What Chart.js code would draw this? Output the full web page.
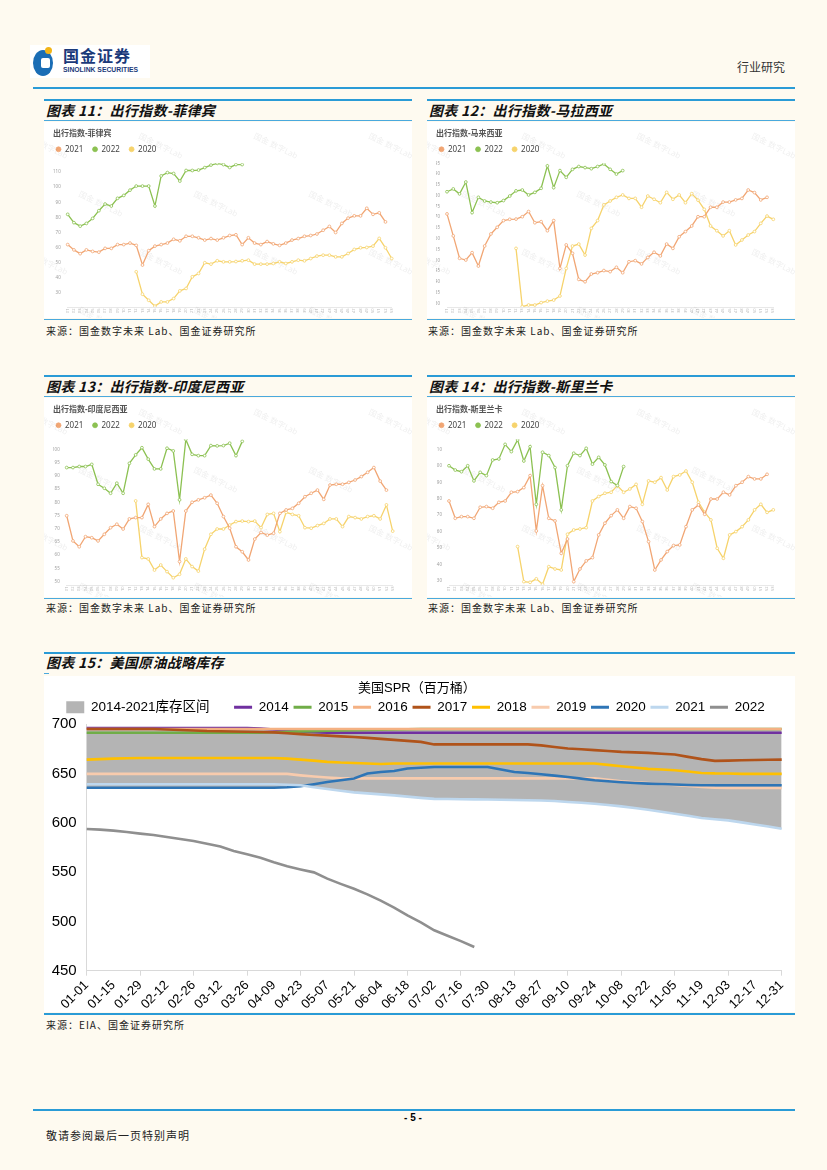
<!DOCTYPE html>
<html>
<head>
<meta charset="utf-8">
<script src="https://cdn.jsdelivr.net/npm/chart.js@4.4.0/dist/chart.umd.min.js"></script>
<style>
body { margin: 0; background: #fefaf0; font-family: "Noto Sans CJK SC", sans-serif; }
#page { position: relative; width: 827px; height: 1170px; overflow: hidden; }
.line { position: absolute; height: 0; border-top: 2px solid #2a9bd6; }
.thin { position: absolute; height: 0; border-top: 1px solid #4aa9dd; }
.ttl { position: absolute; font-size: 14px; font-weight: bold; font-style: italic; color: #111; line-height: 20px; letter-spacing: 0.3px; white-space: nowrap; }
.src { position: absolute; font-size: 10px; color: #222; letter-spacing: 1px; line-height: 12px; white-space: nowrap; }
.box { position: absolute; background: #fff; }
canvas { display: block; }
</style>
</head>
<body>
<div id="page">
  <!-- header -->
  <div class="box" style="left:30px;top:45px;width:120px;height:33px;"></div>
  <div style="position:absolute;left:33px;top:50px;width:20px;height:26px;border-radius:50%;background:#1a6db5;"></div>
  <div style="position:absolute;left:41px;top:58px;width:9px;height:10px;border-radius:2px;background:#fff;"></div>
  <div style="position:absolute;left:45px;top:47px;width:7px;height:7px;border-radius:50%;background:#f2b416;"></div>
  <div style="position:absolute;left:63px;top:45px;font-size:16px;font-weight:bold;color:#1b3a7a;letter-spacing:1px;line-height:20px;">国金证券</div>
  <div style="position:absolute;left:63px;top:66px;font-size:6.8px;font-weight:bold;color:#1b3a7a;font-family:'Liberation Sans',sans-serif;line-height:8px;">SINOLINK SECURITIES</div>
  <div style="position:absolute;left:737px;top:59px;font-size:12px;color:#333;line-height:16px;">行业研究</div>
  <div class="line" style="left:33px;top:87px;width:762px;"></div>

  <!-- chart 11 -->
  <div class="line" style="left:44px;top:99px;width:368px;"></div>
  <div class="ttl" style="left:46px;top:100px;">图表 11：出行指数-菲律宾</div>
  <div class="thin" style="left:44px;top:120px;width:368px;"></div>
  <div class="box" style="left:44px;top:122px;width:368px;height:196px;"><canvas id="c11" width="368" height="196"></canvas></div>
  <div class="thin" style="left:44px;top:319px;width:368px;"></div>
  <div class="src" style="left:46px;top:325px;">来源：国金数字未来 Lab、国金证券研究所</div>

  <!-- chart 12 -->
  <div class="line" style="left:427px;top:99px;width:368px;"></div>
  <div class="ttl" style="left:429px;top:100px;">图表 12：出行指数-马拉西亚</div>
  <div class="thin" style="left:427px;top:120px;width:368px;"></div>
  <div class="box" style="left:427px;top:122px;width:368px;height:196px;"><canvas id="c12" width="368" height="196"></canvas></div>
  <div class="thin" style="left:427px;top:319px;width:368px;"></div>
  <div class="src" style="left:428px;top:325px;">来源：国金数字未来 Lab、国金证券研究所</div>

  <!-- chart 13 -->
  <div class="line" style="left:44px;top:375px;width:368px;"></div>
  <div class="ttl" style="left:46px;top:376px;">图表 13：出行指数-印度尼西亚</div>
  <div class="thin" style="left:44px;top:396px;width:368px;"></div>
  <div class="box" style="left:44px;top:398px;width:368px;height:199px;"><canvas id="c13" width="368" height="199"></canvas></div>
  <div class="thin" style="left:44px;top:598px;width:368px;"></div>
  <div class="src" style="left:46px;top:602px;">来源：国金数字未来 Lab、国金证券研究所</div>

  <!-- chart 14 -->
  <div class="line" style="left:427px;top:375px;width:368px;"></div>
  <div class="ttl" style="left:429px;top:376px;">图表 14：出行指数-斯里兰卡</div>
  <div class="thin" style="left:427px;top:396px;width:368px;"></div>
  <div class="box" style="left:427px;top:398px;width:368px;height:199px;"><canvas id="c14" width="368" height="199"></canvas></div>
  <div class="thin" style="left:427px;top:598px;width:368px;"></div>
  <div class="src" style="left:428px;top:602px;">来源：国金数字未来 Lab、国金证券研究所</div>

  <!-- chart 15 -->
  <div class="line" style="left:44px;top:652px;width:751px;"></div>
  <div class="ttl" style="left:46px;top:652px;">图表 15：美国原油战略库存</div>
  <div class="thin" style="left:44px;top:673px;width:5px;"></div>
  <div class="box" style="left:44px;top:676px;width:751px;height:336px;"><canvas id="c15" width="751" height="336"></canvas></div>
  <div class="line" style="left:44px;top:1013px;width:751px;"></div>
  <div class="src" style="left:46px;top:1019px;">来源：EIA、国金证券研究所</div>

  <!-- footer -->
  <div class="line" style="left:33px;top:1109px;width:762px;"></div>
  <div style="position:absolute;left:393px;top:1111px;width:40px;text-align:center;font-size:10px;font-weight:bold;font-family:'Liberation Sans',sans-serif;line-height:14px;">- 5 -</div>
  <div style="position:absolute;left:46px;top:1128px;font-size:11px;color:#222;letter-spacing:1px;line-height:14px;">敬请参阅最后一页特别声明</div>
</div>

<script>
// ---------- small charts: weekly travel index ----------
var weekLabels = ['01','02','03','04','05','06','07','08','09','10','11','12','13','14','15','16','17','18','19','20',
  '21','22','23','24','25','26','27','28','29','30','31','32','33','34','35','36','37','38','39','40',
  '41','42','43','44','45','46','47','48','49','50','51','52','53'];

// Philippines
var ph2021 = [62,58.5,56,58.5,57.5,57,59.5,59.5,62,62, 63,61.5,48.5,58,61,62,63,65.5,64.5,67.5,
  67.5,66.5,65,66,65,66.5,68,68.5,62,66.5, 63,62,64,62.5,61.5,63,65,66,67.5,68,
  69,71.5,74,70,76,79.5,81,81,86,82, 83,77];
var ph2022 = [82,76.5,74.2,76,79.3,84.4,88.8,87.5,92.6,94.5, 98,100.7,100.7,100.7,87.5,107.4,109.6,109,104,111,
  111,111.3,112.9,114.6,115.7,114.9,113,114.9,114.9];
var ph2020 = [null,null,null,null,null,null,null,null,null,null,null,
  44,29.2,25.2,21.3,24.1,24.1,26.3,31.4,33,40.7, 42.9,50,49.1,51.3,50.6,50.6,50.8,51.3,51.7,49.1,
  49.1,49.1,49.5,50.6,49.5,50.6,51.7,51.3,52.8,54.4, 55,55,53.9,53.9,56.1,58.8,59.9,60.1,61,66.1, 59.9,52.8];

// Malaysia
var my2021 = [71.5,61.3,50.9,50.1,53.5,47.3,56.6,62.2,65.3,68.4, 69,69.1,70.2,72.6,67.4,67.9,63.7,68.4,46.2,57.1,
  53.2,41.1,40,43.6,44.2,45.2,44.7,46.7,44.2,49.3, 49.8,48.3,51.3,53.7,52,57.5,55.5,60.9,63.3,65.9,
  70.2,70.2,74.6,74.6,77,77,78,78.7,82.6,81.4, 78,79.2];
var my2022 = [81.8,83.1,80.8,86.3,72.1,79.2,77.5,77,76.7,77.7, 79.8,82.2,82.6,80.3,81.5,83.4,93.8,83.7,91.6,88.5,
  92.2,93.5,93,92.5,93.5,94.7,92.2,90,91.6];
var my2020 = [null,null,null,null,null,null,null,null,null,null,null,
  55.5,28.5,29.2,29.2,30.3,31,31.5,33.4,46.2,56.6, 57.5,52.4,64.8,68.4,75.7,77.5,79.2,80.3,78.7,78.7,
  74.6,79.8,78.3,76.7,81.5,78.3,80.3,76.7,80.9,77.9, 73.6,65.9,63.7,61.3,63.7,57.1,59.4,61.7,63.3,67.1, 70.5,69];

// Indonesia
var id2021 = [74.9,65.4,63.2,67,66.6,65.4,67.9,70.4,71.7,69.9, 73.7,74.2,74.2,79.2,70.8,73.7,75.8,76.7,57.6,76.7,
  80,80.9,81.7,82.7,79.6,74.6,70.2,63.2,61.3,58.2, 66.1,68.6,67.6,68.3,75.8,77.1,77.7,79.6,82.1,83.4,
  84.6,81.1,86.5,86.8,86.8,87.5,88.4,89.7,91.3,93.1, 88,84.6];
var id2022 = [93.1,93.1,93.5,93.5,94.3,86.8,85.3,83.4,87.2,83.4, 94.7,97.9,100.6,96.3,92.6,92.6,100.4,99.4,80.9,103.7,
  98.1,97.6,97.6,101.4,101.3,101.4,102.3,97.6,103];
var id2020 = [null,null,null,null,null,null,null,null,null,null,null,
  80.5,59.1,58.6,54.4,56.3,53.8,51.5,52.8,58.6,55.7, 54,62.3,67.9,69.9,69.9,71.4,72.7,72.9,72.7,72.9,
  70.4,75.4,75.8,68.9,76.2,75.4,74.9,70.4,70.2,71.2, 72,73.7,73.7,70.8,74.6,74.2,73.7,74.6,74.9,73.7, 79,69.1];

// Sri Lanka
var lk2021 = [78.6,68.1,69.1,69.1,68.1,74.8,75.2,74.2,77.8,78.6, 83.9,84.3,86.7,94,60.4,87.9,68.1,66.5,46.8,55.5,
  29.6,37.3,42.2,44.2,58,65.1,69.7,73.2,68.1,75.2, 74.2,66.1,53.9,36.7,42.8,47.9,51.5,51.9,63,73.2,
  76.2,70.5,79.8,79.8,83.9,82.3,87.9,90,93.4,92, 92,94.8];
var lk2022 = [100,97.4,96.4,100,90.8,96,94,103.5,104.1,113, 108.6,115.7,102.9,111.6,76.6,108.2,106.2,98.9,73.2,100,
  107.6,106.2,110.6,101,105.1,100.5,90.4,88,99.5];
var lk2020 = [null,null,null,null,null,null,null,null,null,null,null,
  50.9,29.6,29.2,31.3,28,38.7,37.3,36.7,58.4,61, 61.6,62.4,78.6,81.3,83.3,83.9,87.9,83.9,85.9,88.7,
  76.6,90.8,90,92.8,85.3,93.4,94.4,96.8,90,77.8, 71.7,67.1,49.9,43.8,58,60,63,67.1,73.2,76.6, 71.7,73.2];

// ---------- chart 15: US SPR ----------
var sprDates = ['01-01','01-08','01-15','01-22','01-29','02-05','02-12','02-19','02-26','03-05',
  '03-12','03-19','03-26','04-02','04-09','04-16','04-23','04-30','05-07','05-14',
  '05-21','05-28','06-04','06-11','06-18','06-25','07-02','07-09','07-16','07-23',
  '07-30','08-06','08-13','08-20','08-27','09-03','09-10','09-17','09-24','10-01',
  '10-08','10-15','10-22','10-29','11-05','11-12','11-19','11-26','12-03','12-10',
  '12-17','12-24','12-31'];
var spr2014 = [696,696,696,696,696,696,696,696,696,696, 696,696,696,695.5,694.5,693.5,692.5,691.8,691.2,691.2,
  691.2,691.2,691.2,691.2,691.2,691.2,691.2,691.2,691.2,691.2, 691.2,691.2,691.2,691.2,691.2,691.2,691.2,691.2,691.2,691.2,
  691.2,691.2,691.2,691.2,691.2,691.2,691.2,691.2,691.2,691.2, 691.2,691.2,691.2];
var spr2015 = [691.2,691.2,691.2,691.2,691.2,691.2,691.2,691.2,691.2,691.2, 691.2,691.2,691.2,691.4,691.8,692.2,692.6,692.9,693.2,693.5,
  693.8,694.1,694.4,694.6,694.8,695,695.1,695.1,695.1,695.1, 695.1,695.1,695.1,695.1,695.1,695.1,695.1,695.1,695.1,695.1,
  695.1,695.1,695.1,695.1,695.1,695.1,695.1,695.1,695.1,695.1, 695.1,695.1,695.1];
var spr2016 = [695.1,695.1,695.1,695.1,695.1,695.1,695.1,695.1,695.1,695.1, 695.1,695.1,695.1,695.1,695.1,695.1,695.1,695.1,695.1,695.1,
  695.1,695.1,695.1,695.1,695.1,695.1,695.1,695.1,695.1,695.1, 695.1,695.1,695.1,695.1,695.1,695.1,695.1,695.1,695.1,695.1,
  695.1,695.1,695.1,695.1,695.1,695.1,695.1,695.1,695.1,695.1, 695.1,695.1,695.1];
var spr2017 = [695,695,695,695,695,695,694.5,694,693.5,693, 692.8,692.5,692.2,692,691.6,690.7,689.8,689,688.3,687.6,
  687,686,685,684,683,682,679.4,679.4,679.4,679.4, 679.4,679.4,679.4,679.4,678.4,676.8,675.3,674.5,673.6,672.7,
  671.8,671.3,670.8,670,669.2,666.8,664.5,662.7,663,663.4, 663.6,663.8,664];
var spr2018 = [664,664.5,665,665.4,665.7,665.7,665.7,665.7,665.7,665.7, 665.7,665.7,665.7,665.7,665.7,665,664,663,661.7,661,
  660.6,660,659.6,660,660,660,660,660,660,660, 660,660,660,660,660,660,660,660,660,658.7,
  657.3,656,654.6,654,653.2,652,650.5,650,649.9,649.5, 649.5,649.5,649.5];
var spr2019 = [649.5,649.5,649.5,649.5,649.5,649.5,649.5,649.5,649.5,649.5, 649.5,649.5,649.5,649.5,649.5,649.5,648,646.8,645.8,645,
  645,645,645,645,645,645,645,645,645,645, 645,645,645,645,645,645,645,645,645,643.5,
  642,641,640.3,639.3,638.3,637.2,636.2,635.5,635.2,635.2, 635.2,635.2,635.2];
var spr2020 = [635.5,635.5,635.5,635.5,635.5,635.5,635.5,635.5,635.5,635.5, 635.5,635.5,635.5,635.5,635.5,636,637,639,641.3,643,
  644.8,649.9,651.5,652.5,655,655.7,656.5,656.5,656.5,656.5, 656.5,654,651.5,650.4,649.2,647.8,646.4,644.7,643,642,
  641,640.3,639.7,639.2,638.7,638.3,638,638,638,638, 638,638,638];
var spr2021 = [639,639,639,639,639,639,639,639,639,639, 639,639,639,639,639,638.5,638,636,634.2,632.5,
  630.8,629.8,628.8,627.7,626.5,625.2,624.2,624,623.8,623.7, 623.5,623.3,623,622.8,622.5,622,621,620.2,619.3,618,
  616.6,615,613.2,611.2,609.2,607,604.8,603.5,602.4,600.4, 598.3,596.2,594];
var spr2022 = [593.6,593,592,590.6,589,587.6,585.5,583.5,581.4,578.7, 576,571.3,568,564.6,560,555.8,552.7,549.7,543.3,538,
  533,527.4,521,514,506,499,491,485.5,480,474];

var sprYears = ['2014','2015','2016','2017','2018','2019','2020','2021','2022'];
var sprSeries = [spr2014, spr2015, spr2016, spr2017, spr2018, spr2019, spr2020, spr2021, spr2022];
var sprColors = ['#7030a0','#70ad47','#f4b183','#b0531a','#ffc000','#f8cbad','#2e75b6','#bdd7ee','#8f8f8f'];

var F = '"Noto Sans", "Noto Sans CJK SC", sans-serif';
var FA = '"Liberation Sans", "Noto Sans CJK SC", sans-serif';

// faint watermark like the source images
var watermark = {
  id: 'watermark',
  beforeDatasetsDraw: function (chart) {
    var ctx = chart.ctx;
    ctx.save();
    ctx.font = '8px ' + F;
    ctx.fillStyle = 'rgba(0,0,0,0.07)';
    var row = 0;
    for (var y = 14; y < chart.height; y += 58) {
      for (var x = (row % 2) * 55 - 20; x < chart.width; x += 115) {
        ctx.save();
        ctx.translate(x, y);
        ctx.rotate(0.45);
        ctx.fillText('国金 数字Lab', 0, 0);
        ctx.restore();
      }
      row++;
    }
    ctx.restore();
  }
};

function smallChart(id, title, s2021, s2022, s2020, yMin, yMax, yStep, yWidth, padRight, xHeight) {
  var mk = function (label, data, color) {
    return {
      label: label, data: data, borderColor: color, backgroundColor: color,
      borderWidth: 1.3, pointRadius: 1.4, pointBackgroundColor: '#fff',
      pointBorderColor: color, pointBorderWidth: 0.8, tension: 0, spanGaps: false
    };
  };
  return new Chart(document.getElementById(id), {
    type: 'line',
    data: {
      labels: weekLabels,
      datasets: [
        mk('2021', s2021, '#f1a674'),
        mk('2022', s2022, '#8cc152'),
        mk('2020', s2020, '#f6d36c')
      ]
    },
    plugins: [watermark],
    options: {
      responsive: false,
      animation: false,
      layout: { padding: { left: 9, right: padRight, top: 1, bottom: 0 } },
      plugins: {
        title: {
          display: true, text: title, align: 'start', color: '#555',
          font: { size: 8, family: F }, padding: { top: 6, bottom: 3.7 }
        },
        legend: {
          align: 'start',
          labels: {
            usePointStyle: true, pointStyle: 'circle', boxWidth: 5, boxHeight: 3.5,
            padding: 3, color: '#444', font: { size: 8, family: F },
            generateLabels: function (chart) {
              return Chart.defaults.plugins.legend.labels.generateLabels(chart).map(function (it) {
                it.text = it.text + '   ';
                it.fillStyle = it.strokeStyle;
                return it;
              });
            }
          }
        },
        tooltip: { enabled: false }
      },
      scales: {
        x: {
          grid: { display: false, drawTicks: false },
          border: { color: '#e8e8e8' },
          ticks: { autoSkip: false, minRotation: 90, maxRotation: 90, padding: 1.5,
                   color: '#b8b8b8', font: { size: 4, family: F } },
          afterFit: function (s) { s.height = xHeight; }
        },
        y: {
          min: yMin, max: yMax,
          grid: { display: false, drawTicks: false },
          border: { display: false },
          ticks: { stepSize: yStep, includeBounds: false, padding: 7,
                   color: '#a0a0a0', font: { size: 4.5, family: F } },
          afterFit: function (s) { s.width = yWidth; }
        }
      }
    }
  });
}

smallChart('c11', '出行指数-菲律宾', ph2021, ph2022, ph2020, 20.74, 115.75, 10, 14.7, 20.3, 11);
smallChart('c12', '出行指数-马来西亚', my2021, my2022, my2020, 28.28, 95, 5, 11, 21.7, 11);
smallChart('c13', '出行指数-印度尼西亚', id2021, id2022, id2020, 48.75, 103.78, 5, 13.7, 19.3, 12);
smallChart('c14', '出行指数-斯里兰卡', lk2021, lk2022, lk2020, 27.57, 116.07, 10, 13, 21.7, 12);

// ---------- chart 15 ----------
var bandYears = sprSeries.slice(0, 8);
var bandTop = sprDates.map(function (d, i) { return Math.max.apply(null, bandYears.map(function (a) { return a[i]; })); });
var bandLow = sprDates.map(function (d, i) { return Math.min.apply(null, bandYears.map(function (a) { return a[i]; })); });

var sprSets = [
  { label: '2014-2021库存区间', data: bandTop, fill: '+1', backgroundColor: '#b4b4b4', borderColor: '#b4b4b4',
    borderWidth: 0, pointRadius: 0, order: 100 },
  { label: 'low', data: bandLow, fill: false, borderWidth: 0, pointRadius: 0, order: 101 }
];
sprYears.forEach(function (y, k) {
  sprSets.push({
    label: y, data: sprSeries[k], borderColor: sprColors[k], backgroundColor: sprColors[k],
    borderWidth: 2.6, pointRadius: 0, tension: 0, fill: false, order: 20 - k
  });
});

new Chart(document.getElementById('c15'), {
  type: 'line',
  data: { labels: sprDates, datasets: sprSets },
  options: {
    responsive: false,
    animation: false,
    layout: { padding: { left: 8, right: 13.3, top: 5, bottom: 1.3 } },
    plugins: {
      title: { display: true, text: '美国SPR（百万桶）', color: '#000',
               font: { size: 13, family: FA, weight: 'normal' }, padding: { top: 0, bottom: 2 } },
      legend: {
        labels: {
          usePointStyle: true, pointStyleWidth: 18, boxHeight: 12, padding: 2,
          color: '#000', font: { size: 13.5, family: FA },
          generateLabels: function (chart) {
            var out = [];
            chart.data.datasets.forEach(function (d, i) {
              if (i === 1) return;
              out.push({
                text: i === 0 ? d.label + '      ' : d.label + '\u2009',
                datasetIndex: i,
                fillStyle: d.borderColor, strokeStyle: d.borderColor,
                lineWidth: i === 0 ? 0 : 3,
                pointStyle: i === 0 ? 'rect' : 'line',
                hidden: false, fontColor: '#000'
              });
            });
            return out;
          }
        }
      },
      tooltip: { enabled: false }
    },
    scales: {
      x: {
        grid: { display: true, drawOnChartArea: false, drawTicks: true, tickLength: 5,
                color: function (c) { return c.index % 2 === 0 ? '#d9d9d9' : 'rgba(0,0,0,0)'; } },
        border: { color: '#d9d9d9' },
        ticks: { autoSkip: false, minRotation: 45, maxRotation: 45, padding: 2, color: '#000',
                 font: { size: 13, family: FA },
                 callback: function (v, i) { return i % 2 === 0 ? sprDates[i] : null; } },
        afterFit: function (s) { s.height = 40; }
      },
      y: {
        min: 450, max: 700,
        grid: { display: false, drawTicks: false },
        border: { color: '#d9d9d9' },
        ticks: { stepSize: 50, padding: 10, color: '#000', font: { size: 15, family: FA } },
        afterFit: function (s) { s.width = 34.7; }
      }
    }
  }
});
</script>
</body>
</html>
